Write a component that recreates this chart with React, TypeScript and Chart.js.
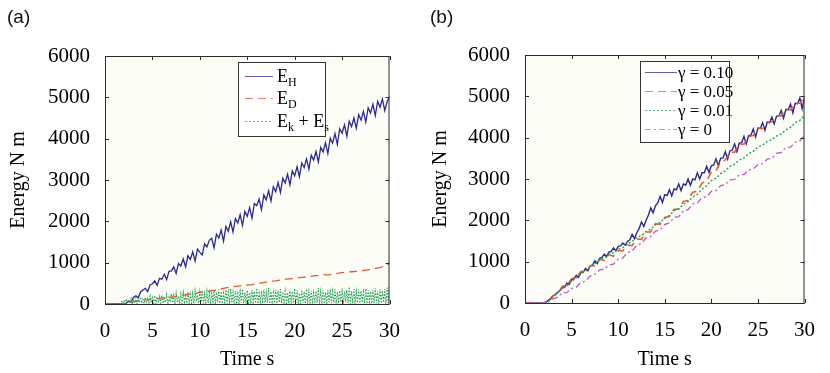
import React, { useEffect, useRef } from "react";
import { Chart, registerables } from "chart.js";
Chart.register(...registerables);

// sample spacing of the recorded series (s)
const STEP_DENSE = 0.125;
const STEP_FINE = 0.25;
const STEP_COARSE = 0.5;

const xTickValues = [0, 5, 10, 15, 20, 25, 30];
const yTickValues = [0, 1000, 2000, 3000, 4000, 5000, 6000];

// ---------- panel (a) ----------
// E_H, every 0.25 s
const energyH = [
  0,
  0, 0, 0, 0,
  0, 0, 0, 0,
  20, 70, 50, 160,
  200, 150, 290, 340,
  380, 300, 460, 490,
  560, 450, 620, 600,
  720, 590, 790, 800,
  900, 740, 980, 920,
  1090, 900, 1170, 1080,
  1260, 1040, 1330, 1250,
  1190, 1450, 1380, 1540,
  1590, 1360, 1690, 1600,
  1790, 1520, 1880, 1760,
  1990, 1740, 2070, 1960,
  2160, 1900, 2240, 2120,
  2330, 2080, 2430, 2380,
  2540, 2280, 2640, 2520,
  2740, 2490, 2840, 2720,
  2940, 2700, 3040, 2930,
  3140, 2880, 3220, 3100,
  3320, 3080, 3410, 3300,
  3510, 3260, 3600, 3480,
  3690, 3440, 3790, 3680,
  3900, 3640, 4010, 3890,
  4120, 3860, 4240, 4130,
  4330, 4060, 4420, 4290,
  4500, 4250, 4580, 4450,
  4660, 4400, 4750, 4620,
  4830, 4560, 4900, 4760,
  4960, 4680, 4900, 5010,
];
// E_D, every 0.5 s
const energyD = [
  0,
  0, 0, 0, 0, 20, 50, 70, 90, 100, 120,
  130, 140, 160, 170, 180, 210, 220, 240, 250, 280,
  290, 310, 330, 350, 380, 400, 420, 430, 450, 460,
  470, 490, 510, 530, 550, 560, 580, 600, 610, 620,
  640, 650, 660, 680, 690, 720, 700, 720, 740, 760,
  770, 780, 790, 800, 820, 840, 860, 880, 930, 990,
];
// E_k + E_s, every 0.125 s
const energyKS = [
  0,
  0, 0, 0, 0, 0, 0, 0, 0,
  0, 0, 0, 30, 10, 60, 20, 90,
  10, 120, 30, 80, 20, 140, 10, 100,
  30, 150, 10, 120, 40, 170, 20, 110,
  10, 160, 50, 130, 20, 190, 30, 150,
  20, 200, 10, 140, 60, 180, 20, 210,
  10, 170, 40, 230, 20, 160, 50, 250,
  30, 210, 10, 260, 40, 190, 20, 240,
  10, 280, 50, 200, 20, 300, 30, 230,
  20, 260, 10, 310, 60, 220, 20, 290,
  40, 330, 10, 240, 30, 300, 20, 270,
  10, 250, 50, 320, 20, 280, 40, 350,
  20, 300, 10, 260, 30, 340, 10, 290,
  50, 370, 20, 280, 10, 320, 40, 250,
  10, 300, 30, 360, 20, 270, 50, 330,
  20, 280, 10, 340, 40, 300, 20, 380,
  10, 260, 60, 310, 20, 350, 30, 280,
  30, 390, 10, 300, 50, 270, 20, 340,
  10, 320, 40, 360, 20, 290, 30, 310,
  20, 280, 10, 350, 50, 300, 20, 370,
  40, 330, 20, 260, 10, 340, 30, 300,
  10, 360, 50, 290, 20, 320, 10, 270,
  20, 310, 30, 380, 10, 300, 40, 340,
  10, 280, 20, 330, 50, 360, 20, 300,
  30, 350, 10, 290, 20, 320, 40, 380,
  10, 300, 50, 340, 20, 410, 10, 310,
  20, 360, 10, 300, 30, 350, 20, 320,
  40, 290, 20, 370, 10, 330, 50, 300,
  10, 340, 30, 380, 20, 310, 10, 350,
  20, 320, 40, 360, 10, 390, 30, 430,
];

// ---------- panel (b) ----------
// gamma = 0.10, every 0.25 s
const gamma010 = [
  0,
  0, 0, 0, 0,
  0, 0, 0, 0,
  20, 70, 90, 170,
  200, 260, 300, 370,
  380, 480, 450, 560,
  580, 670, 620, 740,
  750, 840, 780, 900,
  920, 1020, 950, 1080,
  1100, 1180, 1120, 1230,
  1250, 1330, 1260, 1370,
  1380, 1450, 1400, 1490,
  1530, 1660, 1560, 1700,
  1800, 1960, 1850, 2000,
  2130, 2300, 2180, 2350,
  2420, 2580, 2430, 2620,
  2600, 2740, 2590, 2760,
  2740, 2880, 2720, 2880,
  2850, 3000, 2850, 3000,
  2980, 3150, 3000, 3150,
  3150, 3310, 3160, 3320,
  3340, 3490, 3320, 3500,
  3510, 3660, 3480, 3680,
  3700, 3850, 3660, 3870,
  3880, 4030, 3850, 4050,
  4060, 4210, 4020, 4230,
  4220, 4360, 4180, 4380,
  4360, 4500, 4330, 4520,
  4520, 4660, 4470, 4680,
  4680, 4810, 4600, 4830,
  4820, 4960, 4700, 4970,
];
// gamma = 0.05, every 0.5 s
const gamma005 = [
  0,
  0, 0, 0, 0, 60, 180, 230, 400, 430, 590,
  620, 760, 770, 900, 900, 1050, 1030, 1170, 1130, 1270,
  1260, 1400, 1390, 1550, 1540, 1720, 1720, 1920, 1900, 2070,
  2090, 2270, 2270, 2460, 2480, 2680, 2700, 2900, 2950, 3170,
  3200, 3420, 3460, 3650, 3650, 3850, 3840, 4030, 4050, 4230,
  4220, 4380, 4380, 4530, 4530, 4680, 4670, 4830, 4830, 4980,
];
// gamma = 0.01, every 0.5 s
const gamma001 = [
  0,
  0, 0, 0, 0, 40, 150, 240, 350, 410, 530,
  600, 710, 770, 880, 940, 1040, 1090, 1180, 1220, 1300,
  1340, 1430, 1490, 1590, 1630, 1730, 1790, 1890, 1950, 2050,
  2120, 2230, 2280, 2390, 2450, 2560, 2630, 2760, 2840, 2960,
  3020, 3130, 3200, 3310, 3360, 3460, 3510, 3610, 3670, 3770,
  3820, 3910, 3950, 4040, 4090, 4190, 4250, 4360, 4420, 4530,
];
// gamma = 0, every 0.5 s
const gamma000 = [
  0,
  0, 0, 0, 0, 20, 100, 140, 250, 250, 350,
  380, 500, 530, 650, 690, 800, 820, 920, 940, 1060,
  1090, 1220, 1260, 1400, 1440, 1580, 1610, 1740, 1770, 1900,
  1940, 2070, 2090, 2220, 2260, 2400, 2420, 2550, 2570, 2700,
  2720, 2840, 2860, 2980, 2990, 3100, 3110, 3220, 3240, 3350,
  3370, 3480, 3500, 3620, 3640, 3760, 3770, 3890, 3920, 4060,
];

const SERIF = '"Liberation Serif", "Times New Roman", Times, serif';
const SANS = '"Liberation Sans", Arial, Helvetica, sans-serif';

const BLUE = "#2a2a92";
const RED = "#e9552f";
const GREEN = "#26a355";
const MAGENTA = "#c95cc9";
const PLOT_BG = "#fdfdf7";

type Seg = { t: string; sub?: boolean };
type LegendItem = { parts: Seg[]; color: string; dash: number[] };
type LegendSpec = {
  x: number; y: number; w: number; h: number;
  rows: number[]; lx0: number; lx1: number; tx: number; size: number;
  items: LegendItem[];
};

function pts(values: number[], step: number) {
  return values.map((v, i) => ({ x: i * step, y: v }));
}

function framePlugin(legend: LegendSpec) {
  return {
    id: "frame",
    beforeDatasetsDraw(chart: any) {
      const { ctx, chartArea: a } = chart;
      ctx.save();
      ctx.fillStyle = PLOT_BG;
      ctx.fillRect(a.left, a.top, a.right - a.left, a.bottom - a.top);
      ctx.restore();
    },
    afterDatasetsDraw(chart: any) {
      const { ctx, chartArea: a, scales } = chart;
      ctx.save();
      ctx.strokeStyle = "#2a2a2a";
      ctx.lineWidth = 1;
      ctx.strokeRect(a.left + 0.5, a.top + 0.5, a.right - a.left - 1, a.bottom - a.top);
      const tl = 4;
      ctx.beginPath();
      for (const v of xTickValues) {
        const px = Math.round(scales.x.getPixelForValue(v)) + 0.5;
        ctx.moveTo(px, a.bottom);
        ctx.lineTo(px, a.bottom - tl);
        ctx.moveTo(px, a.top);
        ctx.lineTo(px, a.top + tl);
      }
      for (const v of yTickValues) {
        const py = Math.round(scales.y.getPixelForValue(v)) + 0.5;
        ctx.moveTo(a.left, py);
        ctx.lineTo(a.left + tl, py);
        ctx.moveTo(a.right, py);
        ctx.lineTo(a.right - tl, py);
      }
      ctx.stroke();

      // legend
      const L = legend;
      ctx.fillStyle = "#ffffff";
      ctx.fillRect(L.x, L.y, L.w, L.h);
      ctx.strokeStyle = "#333333";
      ctx.strokeRect(L.x + 0.5, L.y + 0.5, L.w, L.h);
      L.items.forEach((it, i) => {
        const y = L.rows[i];
        ctx.globalAlpha = 0.75;
        ctx.strokeStyle = it.color;
        ctx.lineWidth = 1;
        ctx.setLineDash(it.dash);
        ctx.beginPath();
        ctx.moveTo(L.lx0, y + 0.5);
        ctx.lineTo(L.lx1, y + 0.5);
        ctx.stroke();
        ctx.setLineDash([]);
        ctx.globalAlpha = 1;
        ctx.fillStyle = "#000";
        ctx.textBaseline = "alphabetic";
        ctx.textAlign = "left";
        let x = L.tx;
        for (const s of it.parts) {
          const size = s.sub ? Math.round(L.size * 0.68) : L.size;
          ctx.font = `${size}px ${SERIF}`;
          const base = y + Math.round(L.size * 0.33) + (s.sub ? 4 : 0);
          ctx.fillText(s.t, x, base);
          x += ctx.measureText(s.t).width;
        }
      });
      ctx.restore();
    },
  };
}

type PanelSpec = {
  datasets: any[];
  legend: LegendSpec;
  padding: { left: number; right: number; top: number; bottom: number };
  yWidth: number;
  xHeight: number;
  yTitlePad: number;
};

function Panel({ spec, left }: { spec: PanelSpec; left: number }) {
  const ref = useRef<HTMLCanvasElement | null>(null);
  useEffect(() => {
    const canvas = ref.current!;
    const tickFont = { family: SERIF, size: 21 };
    const titleFont = { family: SERIF, size: 20 };
    const chart = new Chart(canvas, {
      type: "line",
      data: { datasets: spec.datasets },
      options: {
        responsive: false,
        animation: false,
        devicePixelRatio: 1,
        layout: { padding: spec.padding },
        elements: { point: { radius: 0 }, line: { borderWidth: 1, tension: 0 } },
        plugins: { legend: { display: false }, tooltip: { enabled: false } },
        scales: {
          x: {
            type: "linear",
            min: 0,
            max: 30,
            afterFit: (s: any) => { s.height = spec.xHeight; },
            afterBuildTicks: (s: any) => { s.ticks = xTickValues.map((v) => ({ value: v })); },
            ticks: { font: tickFont, color: "#000", padding: 15, maxRotation: 0, callback: (v: any) => String(v) },
            grid: { display: false, drawTicks: false },
            border: { display: false },
            title: { display: true, text: "Time s", font: titleFont, color: "#000", padding: { top: 0, bottom: 1 } },
          },
          y: {
            type: "linear",
            min: 0,
            max: 6000,
            afterFit: (s: any) => { s.width = spec.yWidth; },
            afterBuildTicks: (s: any) => { s.ticks = yTickValues.map((v) => ({ value: v })); },
            ticks: { font: tickFont, color: "#000", padding: 15, callback: (v: any) => String(v) },
            grid: { display: false, drawTicks: false },
            border: { display: false },
            title: { display: true, text: "Energy N m", font: titleFont, color: "#000", padding: { top: spec.yTitlePad, bottom: 0 } },
          },
        },
      },
      plugins: [framePlugin(spec.legend)],
    } as any);
    return () => chart.destroy();
  }, [spec]);
  return (
    <canvas
      ref={ref}
      width={415}
      height={373}
      style={{ position: "absolute", left, top: 0, width: 415, height: 373 }}
    />
  );
}

const line = (label: string, values: number[], step: number, color: string, dash: number[], width = 1) => ({
  label,
  data: pts(values, step),
  borderColor: color,
  backgroundColor: color,
  borderDash: dash,
  borderWidth: width,
  pointRadius: 0,
  fill: false,
});

const DASH_RED = [8, 5];
const DASH_GREEN = [2, 2];
const DASH_MAG = [6, 3, 2, 3];

const specA: PanelSpec = {
  datasets: [
    line("E_k + E_s", energyKS, STEP_DENSE, GREEN, [1.5, 1.5], 1.1),
    line("E_D", energyD, STEP_COARSE, RED, DASH_RED, 1.3),
    line("E_H", energyH, STEP_FINE, BLUE, [], 1.3),
  ],
  legend: {
    x: 238, y: 62, w: 87, h: 74,
    rows: [76, 98, 121], lx0: 245, lx1: 273, tx: 277, size: 18,
    items: [
      { parts: [{ t: "E" }, { t: "H", sub: true }], color: BLUE, dash: [] },
      { parts: [{ t: "E" }, { t: "D", sub: true }], color: RED, dash: DASH_RED },
      { parts: [{ t: "E" }, { t: "k", sub: true }, { t: " + E" }, { t: "s", sub: true }], color: GREEN, dash: DASH_GREEN },
    ],
  },
  padding: { left: 0, right: 12, top: 56, bottom: 0 },
  yWidth: 105,
  xHeight: 69,
  yTitlePad: 7,
};

const specB: PanelSpec = {
  datasets: [
    line("γ = 0", gamma000, STEP_COARSE, MAGENTA, DASH_MAG, 1.4),
    line("γ = 0.01", gamma001, STEP_COARSE, GREEN, DASH_GREEN, 1.4),
    line("γ = 0.05", gamma005, STEP_COARSE, RED, DASH_RED, 1.5),
    line("γ = 0.10", gamma010, STEP_FINE, BLUE, [], 1.4),
  ],
  legend: {
    x: 225, y: 61, w: 89, h: 81,
    rows: [72, 91, 110, 129], lx0: 230, lx1: 262, tx: 263, size: 17,
    items: [
      { parts: [{ t: "γ = 0.10" }], color: BLUE, dash: [] },
      { parts: [{ t: "γ = 0.05" }], color: RED, dash: DASH_RED },
      { parts: [{ t: "γ = 0.01" }], color: GREEN, dash: DASH_GREEN },
      { parts: [{ t: "γ = 0" }], color: MAGENTA, dash: DASH_MAG },
    ],
  },
  padding: { left: 0, right: 14, top: 55, bottom: 0 },
  yWidth: 110,
  xHeight: 70,
  yTitlePad: 14,
};

export default function App() {
  const label: React.CSSProperties = {
    position: "absolute",
    top: 5,
    fontFamily: SANS,
    fontSize: 19,
    color: "#111",
    lineHeight: "24px",
  };
  return (
    <div style={{ position: "absolute", left: 0, top: 0, width: 830, height: 373, background: "#ffffff", overflow: "hidden" }}>
      <Panel spec={specA} left={0} />
      <Panel spec={specB} left={415} />
      <div style={{ ...label, left: 7 }}>(a)</div>
      <div style={{ ...label, left: 430 }}>(b)</div>
    </div>
  );
}
